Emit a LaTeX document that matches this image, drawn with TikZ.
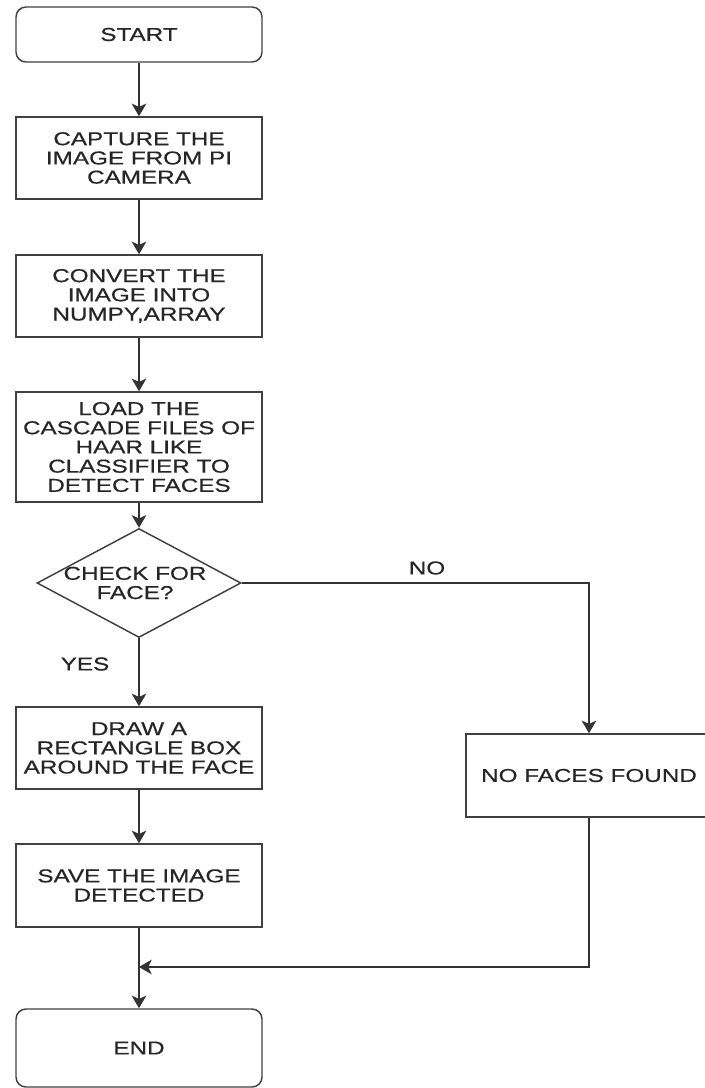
\documentclass[tikz,border=0pt]{standalone}
\usepackage{fontspec}
\setmainfont{Liberation Sans}[FakeStretch=1.3,FakeBold=0.6]
\usetikzlibrary{shapes.geometric,arrows.meta}

\begin{document}
\begin{tikzpicture}[x=0.75pt,y=-0.75pt,
		every node/.style = {font=\fontsize{14}{14.4}\selectfont, text=black!85, align=center},
		process/.style = {shape=rectangle, draw=black!75, line width=1.1pt,
			minimum width=184.5pt, inner sep=0pt},
		terminal/.style = {process, rounded corners=7.5pt},
		decision/.style = {shape=diamond, draw=black!75, line width=1.1pt,
			minimum width=153pt, minimum height=81.75pt, inner sep=0pt},
		flow/.style = {draw=black!80, line width=1.1pt,
			-{Stealth[length=9.5pt,width=11pt,inset=2.5pt]}}]
		\useasboundingbox (0,0) rectangle (704,1088);
		% main column
		\node[terminal, minimum height=41.25pt] (start) at (139,34.5) {START};
		\node[process, minimum height=61.5pt] (capture) at (139,158) {CAPTURE THE\\IMAGE FROM PI\\CAMERA};
		\node[process, minimum height=61.5pt] (convert) at (139,296) {CONVERT THE\\IMAGE INTO\\NUMPY,ARRAY};
		\node[process, minimum height=82.5pt] (load) at (139,447) {LOAD THE\\CASCADE FILES OF\\HAAR LIKE\\CLASSIFIER TO\\DETECT FACES};
		\node[decision] (check) at (139,583) {};
		\node (checktext) at (135,583) {CHECK FOR\\FACE?};
		\node[process, minimum height=61.5pt] (rect) at (139,748) {DRAW A\\RECTANGLE BOX\\AROUND THE FACE};
		\node[process, minimum height=62.25pt] (save) at (139,885.5) {SAVE THE IMAGE\\DETECTED};
		\node[terminal, minimum height=58.5pt] (end) at (139,1048) {END};
		% no branch
		\node[process, minimum height=62.25pt] (noface) at (589,775.5) {NO FACES FOUND};
		\coordinate (join) at (139,967);
		% labels
		\node (yes) at (85,664) {YES};
		\node (no) at (427,568) {NO};
		% connectors
		\draw[flow] (start) -- (capture);
		\draw[flow] (capture) -- (convert);
		\draw[flow] (convert) -- (load);
		\draw[flow] (load) -- (check);
		\draw[flow] (check) -- (rect);
		\draw[flow] (rect) -- (save);
		\draw[flow] (save) -- (end);
		\draw[flow] (check.east) -| (noface.north);
		\draw[flow] (noface.south) |- (join);
\end{tikzpicture}
\end{document}
